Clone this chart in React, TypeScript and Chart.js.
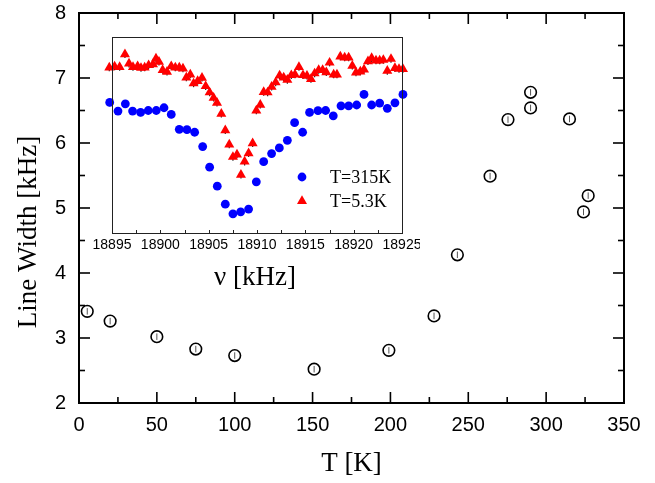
import React, { useEffect, useRef } from "react";
import { Chart, registerables } from "chart.js";

Chart.register(...registerables);

// Main panel: NMR line width versus temperature
const temperatures = [5.3, 20, 50, 75, 100, 151, 199, 228, 243, 264, 275.5, 290, 290, 315, 324, 327];
const lineWidths = [3.41, 3.26, 3.02, 2.83, 2.73, 2.52, 2.81, 3.34, 4.28, 5.49, 6.36, 6.78, 6.54, 6.37, 4.94, 5.19];
const lineWidthError = 0.05;

// Inset: spectra (arbitrary intensity units) at two temperatures
const freq315K = [
  18894.76, 18895.62, 18896.38, 18897.13, 18897.96, 18898.75, 18899.58, 18900.38, 18901.13, 18901.96,
  18902.75, 18903.55, 18904.38, 18905.1, 18905.89, 18906.72, 18907.51, 18908.31, 18909.13, 18909.93,
  18910.69, 18911.51, 18912.31, 18913.14, 18913.89, 18914.72, 18915.44, 18916.31, 18917.1, 18917.89,
  18918.69, 18919.48, 18920.31, 18921.07, 18921.86, 18922.69, 18923.48, 18924.27, 18925.1,
];
const signal315K = [
  66.6, 62.2, 65.9, 62.2, 61.5, 62.5, 62.5, 63.9, 60.5, 52.9,
  52.7, 51.4, 44.1, 33.6, 23.9, 14.7, 9.8, 10.8, 12.2, 26.1,
  36.4, 40.5, 43.4, 47.3, 56.3, 51.4, 61.5, 62.4, 62.5, 59.8,
  64.9, 64.9, 65.3, 70.7, 65.3, 66.3, 63.6, 66.4, 70.7,
];
const freq5K = [
  18894.72, 18895.27, 18895.79, 18896.34, 18896.76, 18897.17, 18897.65, 18898.0, 18898.38, 18898.79,
  18899.24, 18899.55, 18899.86, 18900.24, 18900.69, 18901.13, 18901.55, 18901.96, 18902.34, 18902.69,
  18903.1, 18903.44, 18903.86, 18904.31, 18904.69, 18905.1, 18905.51, 18905.86, 18906.31, 18906.72,
  18907.13, 18907.51, 18907.93, 18908.34, 18908.72, 18909.13, 18909.55, 18909.93, 18910.34, 18910.69,
  18911.1, 18911.51, 18911.93, 18912.34, 18912.76, 18913.14, 18913.55, 18913.93, 18914.34, 18914.76,
  18915.17, 18915.58, 18915.96, 18916.38, 18916.79, 18917.17, 18917.51, 18917.93, 18918.27, 18918.62,
  18919.07, 18919.48, 18919.86, 18920.24, 18920.69, 18921.07, 18921.48, 18921.86, 18922.31, 18922.69,
  18923.07, 18923.48, 18923.86, 18924.27, 18924.69, 18925.1,
];
const signal5K = [
  84.4, 84.9, 84.7, 91.2, 86.4, 84.7, 85.1, 84.2, 84.4, 85.6,
  86.1, 89.0, 87.3, 83.1, 82.2, 85.1, 84.4, 84.4, 83.9, 79.3,
  80.8, 76.3, 77.5, 79.2, 74.9, 71.7, 69.0, 66.4, 60.8, 52.4,
  45.1, 38.8, 40.0, 29.7, 36.4, 40.7, 45.8, 62.5, 65.4, 71.9,
  71.7, 74.6, 76.8, 80.3, 79.3, 78.1, 80.5, 80.8, 84.7, 80.5,
  80.2, 78.5, 81.4, 83.1, 83.1, 82.0, 86.9, 80.8, 80.8, 90.0,
  89.5, 89.5, 85.3, 81.9, 82.4, 83.4, 87.6, 89.2, 88.0, 88.0,
  88.3, 82.7, 88.8, 84.1, 83.7, 83.6,
];
const signalError = 1.9;

const seriesLabels = ["T=315K", "T=5.3K"];
const seriesColors = ["#0000ff", "#ff0000"];

const SANS = '"Liberation Sans", Arial, Helvetica, sans-serif';
const NARROW = '"Liberation Sans Narrow", "Arial Narrow", "Liberation Sans", sans-serif';
const SERIF = '"Liberation Serif", "Times New Roman", Times, serif';

const toPoints = (xs: number[], ys: number[]) =>
  xs.map((x, i) => ({ x, y: ys[i] }));

function drawErrorBars(chart: any, opts: any) {
  const { ctx } = chart;
  const yScale = chart.scales.y;
  ctx.save();
  ctx.strokeStyle = opts.color;
  ctx.lineWidth = opts.width;
  chart.data.datasets.forEach((ds: any, di: number) => {
    const meta = chart.getDatasetMeta(di);
    ds.data.forEach((p: any, i: number) => {
      const el = meta.data[i];
      if (!el) return;
      const top = yScale.getPixelForValue(p.y + opts.err);
      const bot = yScale.getPixelForValue(p.y - opts.err);
      ctx.beginPath();
      ctx.moveTo(el.x, top);
      ctx.lineTo(el.x, bot);
      ctx.stroke();
    });
  });
  ctx.restore();
}

const errorBarPlugin = {
  id: "errorBars",
  beforeDatasetsDraw(chart: any, _a: any, opts: any) {
    if (opts.below) drawErrorBars(chart, opts);
  },
  afterDatasetsDraw(chart: any, _a: any, opts: any) {
    if (!opts.below) drawErrorBars(chart, opts);
  },
};

// Closed frame with inward ticks on all four sides, plus axis titles
const mainFramePlugin = {
  id: "mainFrame",
  afterDraw(chart: any) {
    const { ctx, chartArea: a, scales } = chart;
    const xs = scales.x;
    const ys = scales.y;
    ctx.save();
    ctx.strokeStyle = "#000";
    ctx.lineWidth = 2;
    ctx.strokeRect(a.left, a.top, a.right - a.left, a.bottom - a.top);
    const seg = (x1: number, y1: number, x2: number, y2: number) => {
      ctx.beginPath();
      ctx.moveTo(x1, y1);
      ctx.lineTo(x2, y2);
      ctx.stroke();
    };
    ctx.lineWidth = 1.6;
    for (let v = xs.min; v <= xs.max + 1e-9; v += 25) {
      const len = Math.abs(v % 50) < 1e-9 ? 11 : 6;
      const px = xs.getPixelForValue(v);
      seg(px, a.bottom, px, a.bottom - len);
      seg(px, a.top, px, a.top + len);
    }
    for (let v = ys.min; v <= ys.max + 1e-9; v += 0.5) {
      const len = Math.abs(v % 1) < 1e-9 ? 11 : 6;
      const py = ys.getPixelForValue(v);
      seg(a.left, py, a.left + len, py);
      seg(a.right, py, a.right - len, py);
    }
    ctx.fillStyle = "#000";
    ctx.textAlign = "center";
    ctx.textBaseline = "middle";
    ctx.font = `27px ${SERIF}`;
    ctx.fillText("T [K]", (a.left + a.right) / 2, 464);
    ctx.translate(29, (a.top + a.bottom) / 2 + 24);
    ctx.rotate(-Math.PI / 2);
    ctx.fillText("Line Width [kHz]", 0, 0);
    ctx.restore();
  },
};

// Thin frame, bottom minor ticks, axis title and legend of the inset
const insetFramePlugin = {
  id: "insetFrame",
  afterDraw(chart: any) {
    const { ctx, chartArea: a, scales } = chart;
    const xs = scales.x;
    ctx.save();
    ctx.strokeStyle = "#222";
    ctx.lineWidth = 1;
    ctx.strokeRect(a.left + 0.5, a.top + 0.5, a.right - a.left, a.bottom - a.top);
    for (let v = xs.min; v <= xs.max + 1e-9; v += 2.5) {
      const px = Math.round(xs.getPixelForValue(v)) + 0.5;
      ctx.beginPath();
      ctx.moveTo(px, a.bottom);
      ctx.lineTo(px, a.bottom - 3);
      ctx.stroke();
    }
    ctx.fillStyle = "#000";
    ctx.textAlign = "center";
    ctx.textBaseline = "middle";
    ctx.font = `27px ${SERIF}`;
    ctx.fillText("\u03bd [kHz]", (a.left + a.right) / 2 - 2, a.bottom + 45);

    // legend
    const mx = a.left + 190;
    const rows = [a.top + 140, a.top + 164];
    ctx.font = `18px ${SERIF}`;
    ctx.textAlign = "left";
    rows.forEach((ry, i) => {
      ctx.fillStyle = seriesColors[i];
      ctx.beginPath();
      if (i === 0) {
        ctx.arc(mx, ry, 4.4, 0, Math.PI * 2);
      } else {
        const r = 5.8;
        ctx.moveTo(mx, ry - r);
        ctx.lineTo(mx + r * 0.866, ry + r * 0.5);
        ctx.lineTo(mx - r * 0.866, ry + r * 0.5);
        ctx.closePath();
      }
      ctx.fill();
      ctx.fillStyle = "#000";
      ctx.fillText(seriesLabels[i], mx + 28, ry + 1);
    });
    ctx.restore();
  },
};

export default function App() {
  const mainRef = useRef<HTMLCanvasElement>(null);
  const insetRef = useRef<HTMLCanvasElement>(null);

  useEffect(() => {
    const main = new Chart(mainRef.current as HTMLCanvasElement, {
      type: "scatter",
      data: {
        datasets: [
          {
            data: toPoints(temperatures, lineWidths),
            pointStyle: "circle",
            pointRadius: 5.8,
            pointHoverRadius: 5.8,
            backgroundColor: "rgba(0,0,0,0)",
            borderColor: "#000",
            borderWidth: 1.6,
            clip: false,
          } as any,
        ],
      },
      options: {
        responsive: false,
        animation: false,
        events: [],
        layout: { padding: { top: 13, right: 31, left: 0, bottom: 0 } },
        plugins: {
          legend: { display: false },
          tooltip: { enabled: false },
          errorBars: { err: lineWidthError, color: "#555", width: 1, below: false },
        } as any,
        scales: {
          x: {
            type: "linear",
            min: 0,
            max: 350,
            grid: { display: false, drawTicks: false },
            border: { display: false },
            ticks: {
              stepSize: 50,
              autoSkip: false,
              maxRotation: 0,
              padding: 10,
              color: "#000",
              font: { family: SANS, size: 20 },
            },
            afterFit: (s: any) => {
              s.height = 80;
              s.paddingLeft = 0;
              s.paddingRight = 0;
            },
          },
          y: {
            type: "linear",
            min: 2,
            max: 8,
            grid: { display: false, drawTicks: false },
            border: { display: false },
            ticks: {
              stepSize: 1,
              autoSkip: false,
              padding: 13,
              color: "#000",
              font: { family: SANS, size: 20 },
            },
            afterFit: (s: any) => {
              s.width = 79;
              s.paddingTop = 0;
              s.paddingBottom = 0;
            },
          },
        },
      },
      plugins: [errorBarPlugin, mainFramePlugin],
    });

    const inset = new Chart(insetRef.current as HTMLCanvasElement, {
      type: "scatter",
      data: {
        datasets: [
          {
            label: seriesLabels[0],
            data: toPoints(freq315K, signal315K),
            pointStyle: "circle",
            pointRadius: 4.4,
            pointHoverRadius: 4.4,
            backgroundColor: seriesColors[0],
            borderColor: seriesColors[0],
            borderWidth: 0,
            clip: false,
          } as any,
          {
            label: seriesLabels[1],
            data: toPoints(freq5K, signal5K),
            pointStyle: "triangle",
            pointRadius: 5.8,
            pointHoverRadius: 5.8,
            backgroundColor: seriesColors[1],
            borderColor: seriesColors[1],
            borderWidth: 0,
            clip: false,
          } as any,
        ],
      },
      options: {
        responsive: false,
        animation: false,
        events: [],
        layout: { padding: { top: 11, right: 18, left: 22, bottom: 0 } },
        plugins: {
          legend: { display: false },
          tooltip: { enabled: false },
          errorBars: { err: signalError, color: "#222", width: 1.2, below: true },
        } as any,
        scales: {
          x: {
            type: "linear",
            min: 18895,
            max: 18925,
            grid: { display: false, drawTicks: false },
            border: { display: false },
            ticks: {
              stepSize: 5,
              autoSkip: false,
              maxRotation: 0,
              padding: 4,
              color: "#000",
              font: { family: NARROW, size: 14 },
              callback: (v: any) => String(v),
            },
            afterFit: (s: any) => {
              s.height = 63;
              s.paddingLeft = 0;
              s.paddingRight = 0;
            },
          },
          y: {
            type: "linear",
            min: 0,
            max: 100,
            display: false,
          },
        },
      },
      plugins: [errorBarPlugin, insetFramePlugin],
    });

    return () => {
      main.destroy();
      inset.destroy();
    };
  }, []);

  return (
    <div style={{ position: "fixed", left: 0, top: 0, width: 655, height: 483, background: "#fff" }}>
      <canvas ref={mainRef} width={655} height={483} style={{ position: "absolute", left: 0, top: 0 }} />
      <canvas ref={insetRef} width={330} height={270} style={{ position: "absolute", left: 90, top: 26 }} />
    </div>
  );
}
